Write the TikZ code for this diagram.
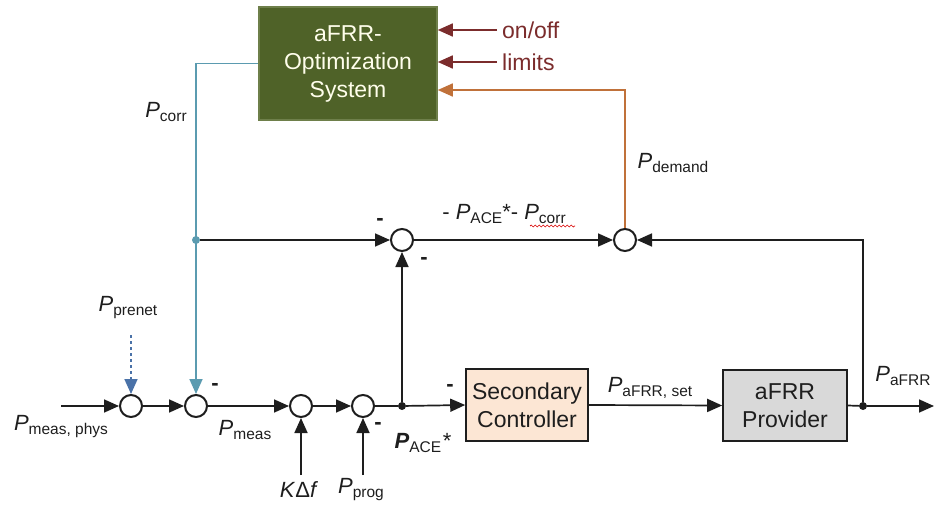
\documentclass[tikz,border=0pt]{standalone}
\usepackage{fontspec}
\setmainfont{Liberation Sans}
\usetikzlibrary{arrows.meta,decorations.pathmorphing}

\definecolor{optgreen}{HTML}{4F6228}
\definecolor{optborder}{HTML}{6E7F4A}
\definecolor{corrteal}{HTML}{5B9BB0}
\definecolor{ctrlred}{HTML}{7B2C2C}
\definecolor{demandbrown}{HTML}{C0713A}
\definecolor{prenetblue}{HTML}{4A72A8}
\definecolor{peach}{HTML}{FCE6D4}
\definecolor{provgrey}{HTML}{D9D9D9}
\definecolor{ink}{HTML}{1E1E1E}

% power symbol with subscript
\newcommand{\Psym}[1]{{\fontsize{22}{22}\selectfont\itshape P}\raisebox{-4pt}{\fontsize{15.5}{16}\selectfont #1}}

\begin{document}
\begin{tikzpicture}[x=1pt,y=-1pt,
  tip/.style={-{Triangle[length=15pt,width=13pt,fill=#1]}},
  sig/.style={line width=1.7pt, draw=ink, tip=ink},
  wire/.style={line width=1.7pt, draw=ink},
  sumpt/.style={circle, draw=ink, line width=2pt, minimum size=22pt, inner sep=0pt, fill=white},
  blk/.style={draw=ink, line width=1.6pt, inner sep=0pt, text=ink,
              font=\fontsize{23}{28}\selectfont, align=center},
  dot/.style={circle, fill=ink, inner sep=0pt, minimum size=8pt},
  lbl/.style={inner sep=0pt, text=ink},
  minus/.style={inner sep=0pt, text=ink, font=\fontsize{22}{22}\selectfont\bfseries}
]
\useasboundingbox (0,0) rectangle (938,508);

% blocks
\node[blk, draw=optborder, fill=optgreen, text={white!92!yellow}, minimum width=178pt, minimum height=113pt]
  (opt) at (348,63.5) {aFRR-\\Optimization\\System};
\node[blk, fill=peach, minimum width=122pt, minimum height=72pt] (sec) at (527,405) {Secondary\\Controller};
\node[blk, fill=provgrey, minimum width=124pt, minimum height=71pt] (prov) at (785,405.5) {aFRR\\Provider};

% summing points
\node[sumpt] (c1) at (131,406) {};
\node[sumpt] (c2) at (196,406) {};
\node[sumpt] (c3) at (301,406) {};
\node[sumpt] (c4) at (363,406) {};
\node[sumpt] (sA) at (402,240) {};
\node[sumpt] (sB) at (625,240) {};

% branch points
\node[dot] (dA) at (402,406) {};
\node[dot] (dB) at (863,406) {};
\node[dot, fill=corrteal] (dC) at (196,240) {};

% free ends
\coordinate (in) at (61,406);
\coordinate (out) at (934,406);
\coordinate (pn) at (131,335);
\coordinate (kf) at (301,475);
\coordinate (pg) at (363,475);
\coordinate (onsrc) at (497,30);
\coordinate (limsrc) at (497,62);
\path (opt.east) ++(0,26.5) coordinate (dmin);

% main forward path
\draw[sig] (in) -- (c1);
\draw[sig] (c1) -- (c2);
\draw[sig] (c2) -- (c3);
\draw[sig] (c3) -- (c4);
\draw[wire] (c4) -- (dA);
\draw[sig] (dA) -- (sec.west);
\draw[sig] (sec.east) -- (prov.west);
\draw[wire] (prov.east) -- (dB);
\draw[sig] (dB) -- (out);

% side inputs
\draw[sig, draw=prenetblue, dashed, tip=prenetblue] (pn) -- (c1.north);
\draw[sig] (kf) -- (c3.south);
\draw[sig] (pg) -- (c4.south);

% correction loop
\draw[sig, draw=corrteal, tip=corrteal] (opt.west) -| (c2.north);
\draw[sig] (dC) -- (sA.west);
\draw[sig] (dA) -- (sA.south);
\draw[sig] (sA.east) -- (sB.west);
\draw[sig] (dB) |- (sB.east);
\draw[sig, draw=demandbrown, tip=demandbrown] (sB.north) |- (dmin);

% external inputs of the optimization system
\draw[sig, draw=ctrlred, tip=ctrlred] (onsrc) -- (onsrc -| opt.east);
\draw[sig, draw=ctrlred, tip=ctrlred] (limsrc) -- (limsrc -| opt.east);
\node[lbl, text=ctrlred, anchor=west, font=\fontsize{23}{23}\selectfont] (lon) at ([xshift=5pt]onsrc) {on/off};
\node[lbl, text=ctrlred, anchor=west, font=\fontsize{23}{23}\selectfont] (llim) at ([xshift=5pt]limsrc) {limits};

% signal labels
\node[lbl] (lcorr) at (166,112) {\Psym{corr}};
\node[lbl] (ldem) at (673,163) {\Psym{demand}};
\node[lbl] (lmid) at (504,214) {{\fontsize{22}{22}\selectfont - }\Psym{ACE}{\fontsize{22}{22}\selectfont *- }\Psym{corr}};
\draw[red!85!black, line width=0.7pt, decorate, decoration={snake, amplitude=1pt, segment length=4pt}]
  (530,226) -- (575,226);
\node[lbl] (lphys) at (61,427) {\Psym{meas, phys}};
\node[lbl] (lpre) at (128,308) {\Psym{prenet}};
\node[lbl] (lmeas) at (245,430) {\Psym{meas}};
\node[lbl] (lkf) at (299,490) {\fontsize{22}{22}\selectfont\textit{K}Δ\textit{f}};
\node[lbl] (lprog) at (361,490) {\Psym{prog}};
\node[lbl] (lace) at (423,443) {{\fontsize{22}{22}\selectfont\bfseries\itshape P}\raisebox{-4pt}{\fontsize{15.5}{16}\selectfont ACE}\,{\fontsize{22}{22}\selectfont *}};
\node[lbl] (lset) at (650,388) {\Psym{aFRR, set}};
\node[lbl] (lafrr) at (903,376) {\Psym{aFRR}};

% signs at the summing points
\node[minus] at (380,222) {-};
\node[minus] at (424,261) {-};
\node[minus] at (215,387) {-};
\node[minus] at (378,426) {-};
\node[minus] at (450,388) {-};
\end{tikzpicture}
\end{document}
